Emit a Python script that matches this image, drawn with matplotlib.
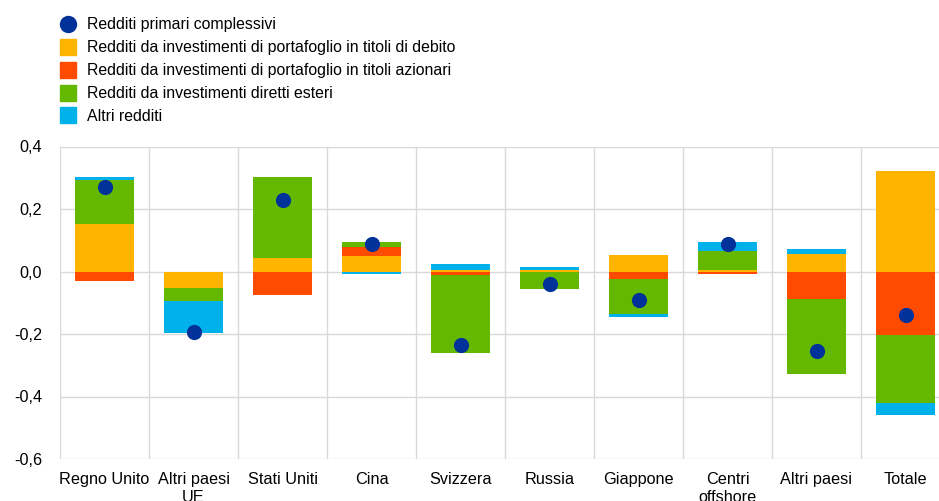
import matplotlib
matplotlib.use("Agg")
import matplotlib.pyplot as plt
import numpy as np
from matplotlib.lines import Line2D

plt.rcParams['font.family'] = ['Liberation Sans', 'DejaVu Sans']

categories = ["Regno Unito", "Altri paesi\nUE", "Stati Uniti", "Cina", "Svizzera",
              "Russia", "Giappone", "Centri\noffshore", "Altri paesi", "Totale"]
debt = [0.153, -0.053, 0.044, 0.049, 0.006, 0.005, 0.052, 0.004, 0.056, 0.321]
equity = [-0.029, 0.0, -0.076, 0.031, -0.012, -0.002, -0.025, -0.008, -0.087, -0.204]
fdi = [0.140, -0.040, 0.257, 0.015, -0.248, -0.053, -0.111, 0.062, -0.240, -0.218]
other = [0.008, -0.104, 0.003, -0.008, 0.017, 0.008, -0.008, 0.028, 0.017, -0.038]
total = [0.272, -0.194, 0.229, 0.089, -0.236, -0.039, -0.092, 0.087, -0.254, -0.138]

series = [
    ("Redditi da investimenti di portafoglio in titoli di debito", debt, "#FFB400"),
    ("Redditi da investimenti di portafoglio in titoli azionari", equity, "#FF4B00"),
    ("Redditi da investimenti diretti esteri", fdi, "#65B800"),
    ("Altri redditi", other, "#00B1EA"),
]
dot_label = "Redditi primari complessivi"
dot_color = "#003299"
yticks = [-0.6, -0.4, -0.2, 0.0, 0.2, 0.4]

FS = 11.7

fig = plt.figure(figsize=(9.39, 5.01), dpi=100)
ax = fig.add_axes([60/939, 1-459/501, 890/939, (459-146.5)/501])

x = np.arange(len(categories))
pos_base = np.zeros(len(categories))
neg_base = np.zeros(len(categories))
for name, vals, col in series:
    v = np.array(vals)
    bottoms = np.where(v >= 0, pos_base, neg_base)
    ax.bar(x, v, 0.66, bottom=bottoms, color=col, zorder=2, linewidth=0)
    pos_base = pos_base + np.where(v >= 0, v, 0)
    neg_base = neg_base + np.where(v < 0, v, 0)

ax.scatter(x, total, s=120, color=dot_color, zorder=3, linewidths=0)

ax.set_xlim(-0.5, len(categories) - 0.5)
ax.set_ylim(-0.6, 0.4)
ax.set_yticks(yticks)
ax.set_yticklabels([f"{t:.1f}".replace(".", ",") for t in yticks])
ax.set_xticks(x)
ax.set_xticklabels(categories)
ax.tick_params(axis='both', length=0, labelsize=FS, colors='black')
ax.tick_params(axis='y', pad=13)
ax.tick_params(axis='x', pad=9.5)
for lab in ax.get_xticklabels():
    lab.set_linespacing(1.25)

for t in yticks:
    ax.axhline(t, color="#D9D9D9", lw=1, zorder=1)
for b in np.arange(-0.5, len(categories), 1.0):
    ax.axvline(b, color="#D9D9D9", lw=1, zorder=1)
for s in ax.spines.values():
    s.set_visible(False)

handles = [Line2D([], [], marker='o', ls='', color=dot_color, markersize=11.5)]
labels = [dot_label]
for name, vals, col in series:
    handles.append(Line2D([], [], marker='s', ls='', color=col, markersize=11))
    labels.append(name)
fig.legend(handles, labels, loc='upper left', bbox_to_anchor=(52/939, 1-11/501),
           frameon=False, fontsize=11.4, handletextpad=0.6, labelspacing=0.5,
           handlelength=1.2, borderaxespad=0)

fig.savefig("out.png", dpi=100)
